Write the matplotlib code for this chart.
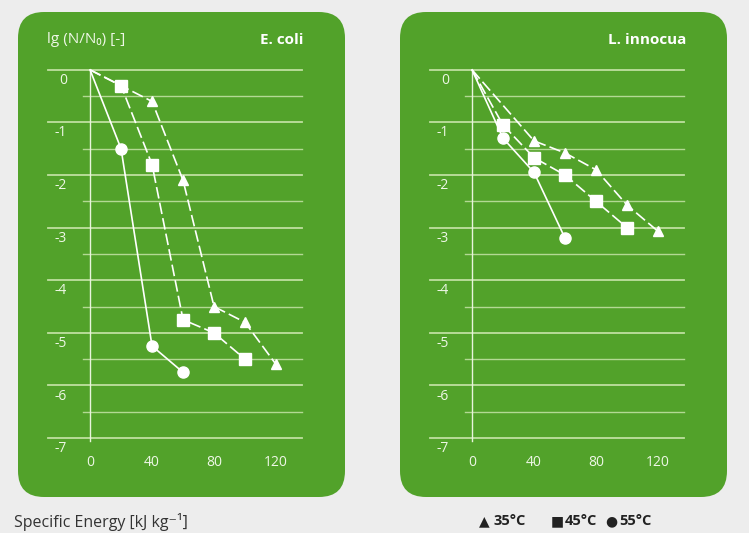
import matplotlib.pyplot as plt
from matplotlib.patches import FancyBboxPatch

# E. coli, lg(N/N0) vs specific energy [kJ/kg]
ecoli_x35 = [0, 40, 60, 80, 100, 120]
ecoli_y35 = [0, -0.6, -2.1, -4.5, -4.8, -5.6]
ecoli_x45 = [0, 20, 40, 60, 80, 100]
ecoli_y45 = [0, -0.3, -1.8, -4.75, -5.0, -5.5]
ecoli_x55 = [0, 20, 40, 60]
ecoli_y55 = [0, -1.5, -5.25, -5.75]

# L. innocua
linn_x35 = [0, 40, 60, 80, 100, 120]
linn_y35 = [0, -1.35, -1.58, -1.9, -2.57, -3.07]
linn_x45 = [0, 20, 40, 60, 80, 100]
linn_y45 = [0, -1.05, -1.67, -2.0, -2.5, -3.0]
linn_x55 = [0, 20, 40, 60]
linn_y55 = [0, -1.3, -1.95, -3.2]

x_ticks = [0, 40, 80, 120]
y_ticks = [0, -1, -2, -3, -4, -5, -6, -7]
legend_labels = ['35°C', '45°C', '55°C']

GREEN = '#52a22a'
GRID = '#bfe0a0'
FONT = ['Open Sans', 'DejaVu Sans']

plt.rcParams['font.family'] = FONT

fig = plt.figure(figsize=(7.49, 5.33), dpi=100)
fig.patch.set_facecolor('#ededed')

W, H = 749, 533
panel_w, panel_h = 327, 485
axes_pos = [[18 / W, 36 / H, panel_w / W, panel_h / H],
            [400 / W, 36 / H, panel_w / W, panel_h / H]]


def draw_panel(ax, series, title, show_ylabel):
    ax.set_xlim(-46.5, 164.5)
    ax.set_ylim(-8.12, 1.10)
    ax.axis('off')
    bg = FancyBboxPatch((0, 0), 1, 1, transform=ax.transAxes,
                        boxstyle='round,pad=0,rounding_size=%f' % (26 / panel_w),
                        mutation_aspect=panel_w / panel_h,
                        facecolor=GREEN, edgecolor='none', zorder=0, clip_on=False)
    ax.add_patch(bg)

    # horizontal grid: whole units long, half units short
    for v in y_ticks:
        ax.plot([-27, 137], [v, v], color=GRID, lw=1.3, zorder=1)
    for v in [t - 0.5 for t in y_ticks[:-1]]:
        ax.plot([-4.5, 137], [v, v], color=GRID, lw=1.0, alpha=0.9, zorder=1)
    ax.plot([0, 0], [0, -7.05], color='#e8f4dc', lw=1.0, zorder=2)

    for v in y_ticks:
        ax.text(-15, v - 0.2, str(v), color='#eef7e6', fontsize=10,
                ha='right', va='center')
    for v in x_ticks:
        ax.text(v, -7.47, str(v), color='#eef7e6', fontsize=10,
                ha='center', va='center')

    styles = [('^', 7, (0, (7, 2.5))), ('s', 8, (0, (7, 2.5))), ('o', 8, '-')]
    for (xs, ys), (m, ms, ls) in zip(series, styles):
        ax.plot(xs, ys, color='white', lw=1.2, linestyle=ls, marker=m,
                markersize=ms, markeredgecolor='white',
                markevery=list(range(1, len(xs))), zorder=3)

    if show_ylabel:
        ax.text(-27.5, 0.57, 'lg (N/N₀) [-]', color='#eef7e6', fontsize=11,
                ha='left', va='center')
    ax.text(138, 0.57, title, color='white', fontsize=11, fontweight='bold',
            ha='right', va='center')


ax1 = fig.add_axes(axes_pos[0])
draw_panel(ax1, [(ecoli_x35, ecoli_y35), (ecoli_x45, ecoli_y45), (ecoli_x55, ecoli_y55)],
           'E. coli', True)
ax2 = fig.add_axes(axes_pos[1])
draw_panel(ax2, [(linn_x35, linn_y35), (linn_x45, linn_y45), (linn_x55, linn_y55)],
           'L. innocua', False)

fig.text(14 / W, 1 - 522 / H, 'Specific Energy [kJ kg⁻¹]', color='#333333',
         fontsize=11.5, ha='left', va='center')
for sym, lab, xs, xl in zip(['▲', '■', '●'], legend_labels,
                            [479, 551, 605], [494, 565, 619]):
    fig.text(xs / W, 1 - 521 / H, sym, color='#222222', fontsize=10,
             ha='left', va='center', family=['DejaVu Sans'])
    fig.text(xl / W, 1 - 521 / H, lab, color='#222222', fontsize=10.5,
             fontweight='bold', ha='left', va='center')

fig.savefig('out.png', dpi=100, facecolor=fig.get_facecolor())
